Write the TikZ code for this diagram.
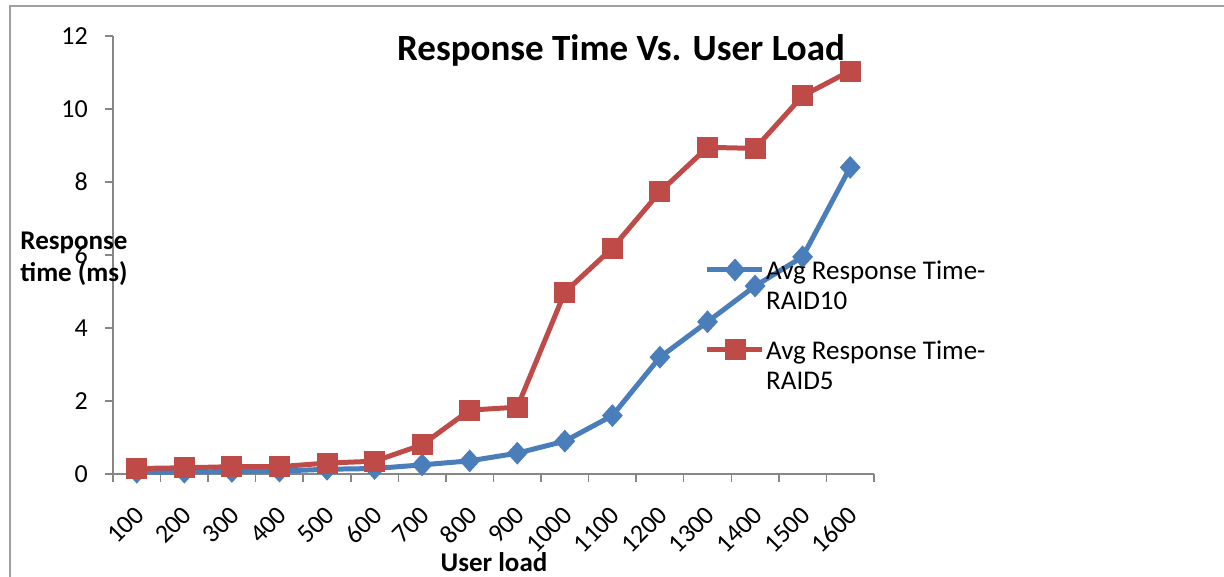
\documentclass[tikz,border=0pt]{standalone}
\usepackage{fontspec}
\setmainfont{Carlito}
\usetikzlibrary{shapes.geometric}
\definecolor{raidblue}{HTML}{4A7EBB}
\definecolor{raidred}{HTML}{BE4B48}
\definecolor{axisgray}{HTML}{868686}
\definecolor{framegray}{HTML}{A0A0A0}

\begin{document}
\begin{tikzpicture}[
  x=1pt, y=1pt,
  axis/.style={draw=axisgray, line width=1.5pt},
  ticklab/.style={font=\fontsize{26}{30}\selectfont, inner sep=0pt},
  axtitle/.style={font=\fontsize{27}{32}\selectfont\bfseries, align=center, inner sep=0pt},
  legtext/.style={font=\fontsize{27}{30}\selectfont, align=left, anchor=west, inner sep=0pt},
  series/.style={line width=5pt, line join=round},
  bmark/.style={diamond, fill=raidblue, inner sep=0pt, minimum width=21pt, minimum height=23pt},
  rmark/.style={rectangle, fill=raidred, inner sep=0pt, minimum size=21pt}
]
\def\dx{47.56}
\def\dy{36.5}
\useasboundingbox (-113,-103) rectangle (1111,474);

% chart frame (only top and left edges show)
\draw[framegray, line width=1.5pt] (-103,-103) -- (-103,468) -- (1111,468);

% axes and ticks
\draw[axis] (0,0) -- (0,12*\dy);
\draw[axis] (-8,0) -- (16*\dx,0);
\foreach \v in {0,2,...,12}{
  \draw[axis] (-8,\v*\dy) -- (0,\v*\dy);
  \node[ticklab, anchor=east] (ylab\v) at (-25,\v*\dy) {\v};
}
\foreach \k in {0,...,16}
  \draw[axis] (\k*\dx,0) -- (\k*\dx,-8);
\foreach \n [count=\i] in {100,200,...,1600}
  \node[ticklab, rotate=45, anchor=east] (xlab\i) at ({(\i-0.5)*\dx+3},-37) {\n};

% data points
\foreach \v [count=\i] in {0.05,0.05,0.07,0.08,0.13,0.15,0.25,0.36,0.57,0.9,1.6,3.2,4.17,5.15,5.95,8.4}
  \coordinate (b\i) at ({(\i-0.5)*\dx},{\v*\dy});
\foreach \v [count=\i] in {0.15,0.17,0.2,0.2,0.3,0.35,0.8,1.75,1.83,4.98,6.19,7.73,8.95,8.92,10.36,11.04}
  \coordinate (r\i) at ({(\i-0.5)*\dx},{\v*\dy});

% RAID10
\draw[series, raidblue] (b1) \foreach \i in {2,...,16}{ -- (b\i)};
\foreach \i in {1,...,16}
  \node[bmark] (bm\i) at (b\i) {};
% RAID5
\draw[series, raidred] (r1) \foreach \i in {2,...,16}{ -- (r\i)};
\foreach \i in {1,...,16}
  \node[rmark] (rm\i) at (r\i) {};

% titles
\node[font=\fontsize{37}{40}\selectfont\bfseries, inner sep=0pt] (title) at (508,424) {Response Time Vs. User Load};
\node[axtitle] (ytitle) at (-39,215) {Response\\time (ms)};
\node[axtitle] (xtitle) at (381,-88) {User load};

% legend
\coordinate (lb1) at (594,204);
\coordinate (lb2) at (649,204);
\draw[series, raidblue] (lb1) -- (lb2);
\node[bmark] (lbm) at (622,204) {};
\node[legtext] (lbt) at (653,189) {Avg Response Time-\\RAID10};
\coordinate (lr1) at (594,124);
\coordinate (lr2) at (649,124);
\draw[series, raidred] (lr1) -- (lr2);
\node[rmark] (lrm) at (622,124) {};
\node[legtext] (lrt) at (653,109) {Avg Response Time-\\RAID5};
\end{tikzpicture}
\end{document}
